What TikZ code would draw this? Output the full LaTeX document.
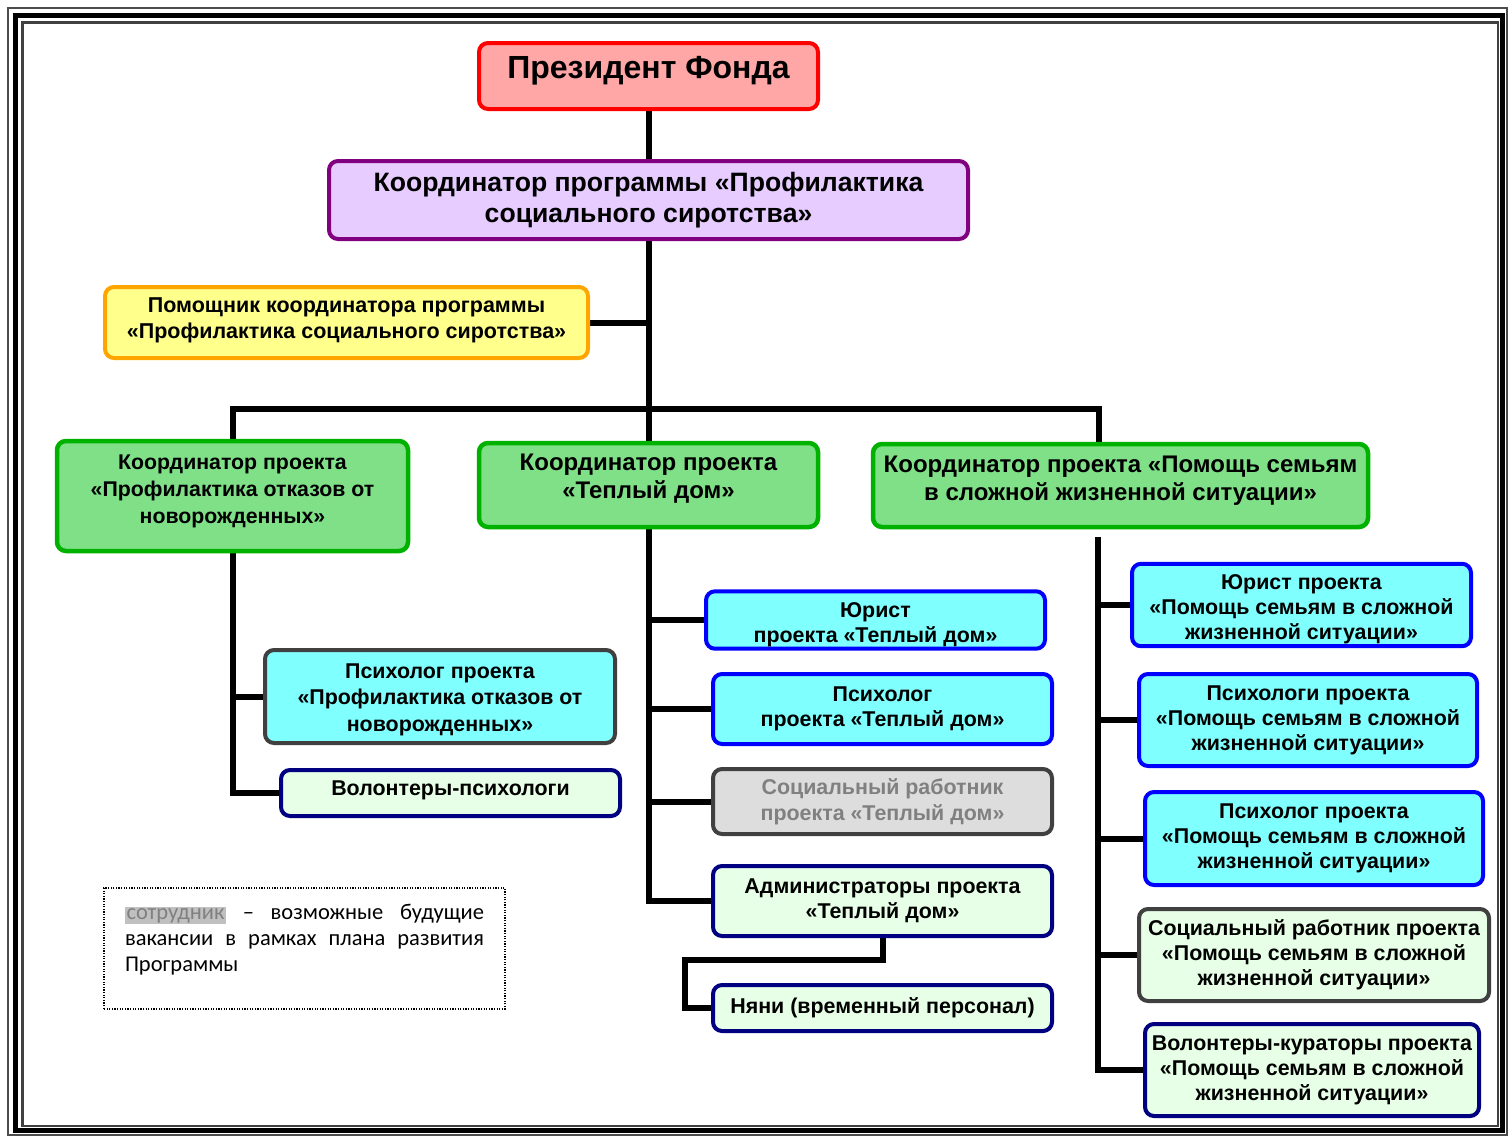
\documentclass[tikz,border=0pt]{standalone}
\usepackage{fontspec}
\setmainfont{Liberation Sans}
\newfontfamily\legendfont{Carlito}
\usetikzlibrary{backgrounds}
\definecolor{presfill}{RGB}{255,166,166}
\definecolor{presdraw}{RGB}{255,0,0}
\definecolor{progfill}{RGB}{230,204,255}
\definecolor{progdraw}{RGB}{128,0,128}
\definecolor{helpfill}{RGB}{255,255,140}
\definecolor{helpdraw}{RGB}{255,165,0}
\definecolor{grfill}{RGB}{128,224,136}
\definecolor{grdraw}{RGB}{0,178,0}
\definecolor{cyanfill}{RGB}{128,255,255}
\definecolor{bluedraw}{RGB}{0,0,255}
\definecolor{navydraw}{RGB}{0,0,128}
\definecolor{lgfill}{RGB}{230,255,230}
\definecolor{dgdraw}{RGB}{64,64,64}
\definecolor{grayfill}{RGB}{221,221,221}
\definecolor{graytext}{RGB}{128,128,128}
\definecolor{hlgray}{RGB}{192,192,192}
\newcommand{\boxnode}[7]{%
  \node[#2, minimum width={(#5)-(#3)-4}, minimum height={(#6)-(#4)-4}] (#1)
    at ({((#3)+(#5))/2},{((#4)+(#6))/2}) {#7};}
\newcommand{\updp}[1]{\rule[-#1]{0pt}{#1}}
\newcommand{\dnht}[1]{\rule{0pt}{#1}}
\tikzset{
  base/.style={rounded corners=9pt, align=center, line width=4pt, inner sep=2pt},
  presbox/.style={base, draw=presdraw, fill=presfill, font=\bfseries\fontsize{32}{36}\selectfont},
  progbox/.style={base, draw=progdraw, fill=progfill, font=\bfseries\fontsize{26.6}{31}\selectfont},
  helpbox/.style={base, draw=helpdraw, fill=helpfill, font=\bfseries\fontsize{21.5}{26}\selectfont},
  grLbox/.style={base, draw=grdraw, fill=grfill, line width=4.5pt, font=\bfseries\fontsize{21.3}{27}\selectfont},
  grbox/.style={base, draw=grdraw, fill=grfill, line width=4.5pt, font=\bfseries\fontsize{24}{28}\selectfont},
  cybox/.style={base, draw=bluedraw, fill=cyanfill, font=\bfseries\fontsize{21.4}{25}\selectfont},
  cydgbox/.style={base, draw=dgdraw, fill=cyanfill, font=\bfseries\fontsize{21.4}{26.5}\selectfont},
  lgbox/.style={base, draw=navydraw, fill=lgfill, font=\bfseries\fontsize{21.4}{25}\selectfont},
  lgdgbox/.style={base, draw=dgdraw, fill=lgfill, font=\bfseries\fontsize{21.4}{25}\selectfont},
  graybox/.style={base, draw=dgdraw, fill=grayfill, text=graytext, font=\bfseries\fontsize{21.4}{26}\selectfont},
  conn/.style={line width=6pt, draw=black},
  legendbox/.style={draw=black, line width=1.2pt, dash pattern=on 1.2pt off 1.4pt,
    text width=359pt, inner xsep=21pt, minimum height=121pt, align=justify,
    font=\legendfont\fontsize{22.5}{26}\selectfont}
}
\begin{document}
\begin{tikzpicture}[x=1pt,y=-1pt]
\useasboundingbox (0,0) rectangle (1510,1138);
% frame
\draw[line width=1.5pt, draw=black!70] (8,8) rectangle (1507,1135);
\draw[line width=5pt, draw=black] (15,15) rectangle (1502,1130.5);
\draw[line width=2.5pt, draw=black!75] (22.5,22.5) rectangle (1498,1126);

\boxnode{pres}{presbox}{477}{41}{820}{111}{Президент Фонда\updp{17pt}}
\boxnode{prog}{progbox}{327}{159}{970}{241}{Координатор программы «Профилактика\\социального сиротства»}
\boxnode{help}{helpbox}{103}{285}{590}{360}{Помощник координатора программы\\«Профилактика социального сиротства»\updp{9pt}}
\boxnode{gL}{grLbox}{55}{439}{410}{553}{Координатор проекта\\«Профилактика отказов от\\новорожденных»\updp{13pt}}
\boxnode{gM}{grbox}{477}{441}{820}{529}{Координатор проекта\\«Теплый дом»\updp{17pt}}
\boxnode{gR}{grbox}{871}{442}{1370}{529}{Координатор проекта «Помощь семьям\\в сложной жизненной ситуации»\updp{15pt}}
\boxnode{psyL}{cydgbox}{263}{648}{617}{745}{\dnht{21pt}Психолог проекта\\«Профилактика отказов от\\новорожденных»}
\boxnode{volL}{lgbox}{279}{768}{622}{818}{Волонтеры-психологи\updp{9pt}}
\boxnode{jurM}{cybox}{704}{590}{1047}{650}{\dnht{24pt}Юрист\\проекта «Теплый дом»}
\boxnode{psyM}{cybox}{711}{672}{1054}{746}{Психолог\\проекта «Теплый дом»}
\boxnode{socM}{graybox}{711}{767}{1054}{836}{Социальный работник\\проекта «Теплый дом»}
\boxnode{admM}{lgbox}{711}{864}{1054}{938}{Администраторы проекта\\«Теплый дом»}
\boxnode{nanM}{lgbox}{711}{983}{1054}{1033}{Няни (временный персонал)}
\boxnode{jurR}{cybox}{1130}{562}{1473}{648}{\dnht{24pt}Юрист проекта\\«Помощь семьям в сложной\\жизненной ситуации»}
\boxnode{psysR}{cybox}{1137}{672}{1479}{768}{Психологи проекта\\«Помощь семьям в сложной\\жизненной ситуации»}
\boxnode{psyR}{cybox}{1143}{790}{1485}{887}{Психолог проекта\\«Помощь семьям в сложной\\жизненной ситуации»}
\boxnode{socR}{lgdgbox}{1137}{907}{1491}{1003}{Социальный работник проекта\\«Помощь семьям в сложной\\жизненной ситуации»}
\boxnode{volR}{lgbox}{1143}{1022}{1481}{1118}{Волонтеры-кураторы проекта\\«Помощь семьям в сложной\\жизненной ситуации»}

\node[legendbox] (legend) at (304.5,948.5) {{\setlength{\fboxsep}{1.5pt}\colorbox{hlgray}{\textcolor{graytext}{сотрудник}}} – возможные будущие вакансии в рамках плана развития Программы\rule[-22pt]{0pt}{22pt}};

\coordinate (barR) at (1099,409);
\coordinate (rtop) at (1098,537);
\coordinate (nk) at (685,960);

\begin{scope}[on background layer]
\draw[conn] (pres.south) -- (prog.north);
\draw[conn] (prog.south) -- (gM.north);
\draw[conn] (help.east) -- (help.east -| prog.south);
\draw[conn] (gL.north) |- (barR) -- (barR |- gR.north);
\draw[conn] (gL.south) |- (volL.west);
\draw[conn] (psyL.west -| gL.south) -- (psyL.west);
\draw[conn] (gM.south) |- (admM.west);
\draw[conn] (jurM.west -| gM.south) -- (jurM.west);
\draw[conn] (psyM.west -| gM.south) -- (psyM.west);
\draw[conn] (socM.west -| gM.south) -- (socM.west);
\draw[conn] (admM.south) |- (nk) |- (nanM.west);
\draw[conn] (rtop) |- (volR.west);
\draw[conn] (jurR.west -| rtop) -- (jurR.west);
\draw[conn] (psysR.west -| rtop) -- (psysR.west);
\draw[conn] (psyR.west -| rtop) -- (psyR.west);
\draw[conn] (socR.west -| rtop) -- (socR.west);
\end{scope}
\end{tikzpicture}
\end{document}
